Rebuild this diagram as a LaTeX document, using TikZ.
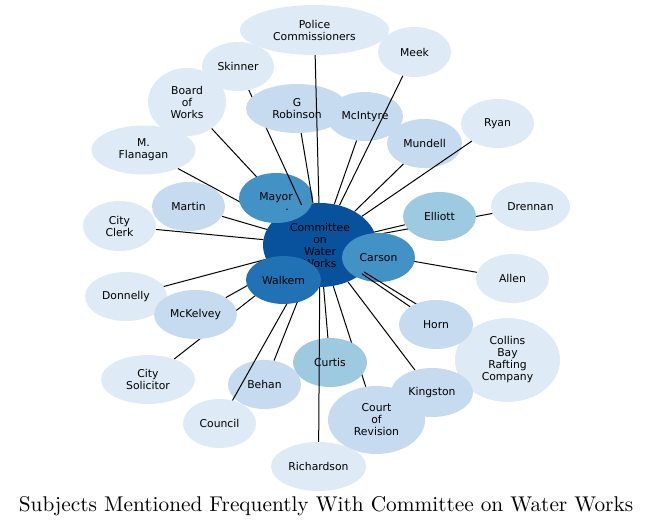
\documentclass[tikz,border=0pt]{standalone}
\usepackage{fontspec}
\usetikzlibrary{shapes.geometric}
\newfontfamily\lblfont{DejaVu Sans}
\newfontfamily\titlefont{lmroman10-regular}[Extension=.otf]
\definecolor{tone1}{HTML}{DEEBF7}
\definecolor{tone2}{HTML}{C6DBEF}
\definecolor{tone3}{HTML}{9ECAE1}
\definecolor{tone5}{HTML}{4292C6}
\definecolor{tone6}{HTML}{2171B5}
\definecolor{tone7}{HTML}{08519C}
\tikzset{
  subj/.style={ellipse,inner sep=0pt,align=center,font=\lblfont\fontsize{10.8}{12}\selectfont},
  dims/.style 2 args={minimum width=#1,minimum height=#2},
  link/.style={line width=1pt}
}

\begin{document}
\begin{tikzpicture}[x=1pt,y=-1pt]
\useasboundingbox (0,0) rectangle (653,527);
\node[subj,dims={114}{84},fill=tone7] (committee) at (320,245) {Committee\\on\\Water\\Works};
\node[subj,dims={78}{68},fill=tone1] (board) at (187,102) {Board\\of\\Works};
\draw[link] (board) -- (committee);
\node[subj,dims={104}{49},fill=tone1] (flanagan) at (143.5,150) {M.\\Flanagan};
\draw[link] (flanagan) -- (committee);
\node[subj,dims={74}{50},fill=tone5] (mayor) at (276,198) {Mayor};
\node[subj] (mayordot) at (287,209.5) {.};
\node[subj,dims={72}{49},fill=tone1] (skinner) at (238,66.5) {Skinner};
\draw[link] (skinner) -- (committee);
\node[subj,dims={102}{49},fill=tone2] (grobinson) at (297,108.5) {G\\Robinson};
\draw[link] (grobinson) -- (committee);
\node[subj,dims={76}{49},fill=tone2] (mcintyre) at (365,116.5) {McIntyre};
\draw[link] (mcintyre) -- (committee);
\node[subj,dims={149}{50},fill=tone1] (police) at (314.5,30) {Police\\Commissioners};
\draw[link] (police) -- (committee);
\node[subj,dims={73}{50},fill=tone1] (meek) at (414.5,52) {Meek};
\draw[link] (meek) -- (committee);
\node[subj,dims={75}{49},fill=tone2] (mundell) at (424.5,143.5) {Mundell};
\draw[link] (mundell) -- (committee);
\node[subj,dims={73}{49},fill=tone1] (ryan) at (497.5,123.5) {Ryan};
\draw[link] (ryan) -- (committee);
\node[subj,dims={73}{49},fill=tone2] (martin) at (188.5,206.5) {Martin};
\draw[link] (martin) -- (committee);
\node[subj,dims={73}{50},fill=tone1] (cityclerk) at (119.5,226) {City\\Clerk};
\draw[link] (cityclerk) -- (committee);
\node[subj,dims={79}{49},fill=tone1] (drennan) at (530.5,206.5) {Drennan};
\draw[link] (drennan) -- (committee);
\node[subj,dims={73}{49},fill=tone3] (elliott) at (439.5,216.5) {Elliott};
\draw[link] (elliott) -- (committee);
\node[subj,dims={73}{49},fill=tone1] (allen) at (512.5,278.5) {Allen};
\draw[link] (allen) -- (committee);
\node[subj,dims={73}{49},fill=tone5] (carson) at (378.5,257.5) {Carson};
\node[subj,dims={105}{84},fill=tone1] (collins) at (507.5,360) {Collins\\Bay\\Rafting\\Company};
\draw[link] (collins) -- (committee);
\node[subj,dims={74}{49},fill=tone2] (horn) at (436,324.5) {Horn};
\draw[link] (horn) -- (committee);
\node[subj,dims={82}{49},fill=tone2] (kingston) at (432,392.5) {Kingston};
\draw[link] (kingston) -- (committee);
\node[subj,dims={97}{68},fill=tone2] (court) at (376.5,420) {Court\\of\\Revision};
\draw[link] (court) -- (committee);
\node[subj,dims={74}{49},fill=tone3] (curtis) at (330,362.5) {Curtis};
\draw[link] (curtis) -- (committee);
\node[subj,dims={95}{49},fill=tone1] (richardson) at (318.5,466.5) {Richardson};
\draw[link] (richardson) -- (committee);
\node[subj,dims={82}{49},fill=tone1] (donnelly) at (126,296.5) {Donnelly};
\draw[link] (donnelly) -- (committee);
\node[subj,dims={94}{49},fill=tone1] (citysolicitor) at (148,379.5) {City\\Solicitor};
\draw[link] (citysolicitor) -- (committee);
\node[subj,dims={83}{49},fill=tone2] (mckelvey) at (195.5,314.5) {McKelvey};
\draw[link] (mckelvey) -- (committee);
\node[subj,dims={73}{49},fill=tone2] (behan) at (264.5,384.5) {Behan};
\draw[link] (behan) -- (committee);
\node[subj,dims={73}{49},fill=tone1] (council) at (219.5,423.5) {Council};
\draw[link] (council) -- (committee);
\node[subj,dims={75}{48},fill=tone6] (walkem) at (283.5,280) {Walkem};
\node[font=\titlefont\fontsize{21.3}{25}\selectfont] (title) at (326,506.5) {Subjects Mentioned Frequently With Committee on Water Works};
\end{tikzpicture}
\end{document}
